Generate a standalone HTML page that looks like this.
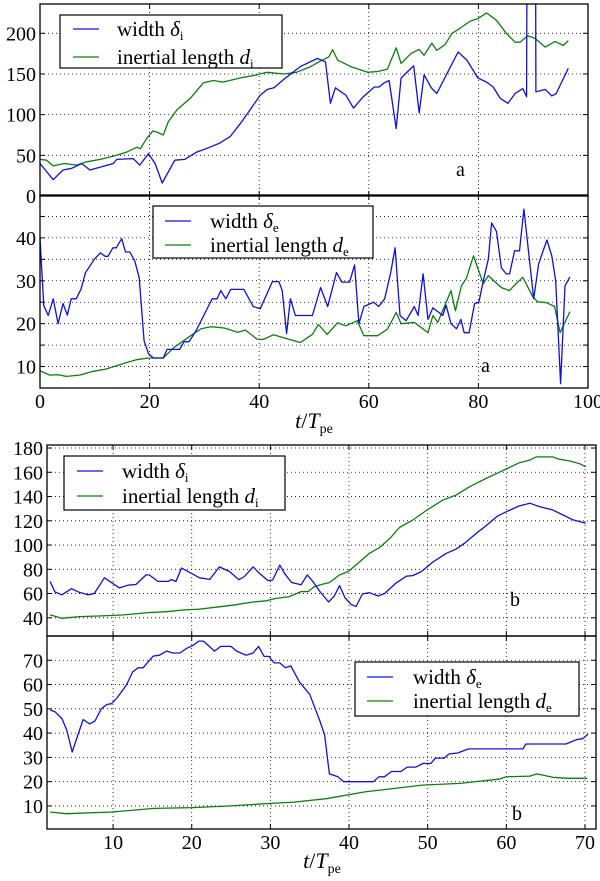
<!DOCTYPE html>
<html><head><meta charset="utf-8">
<style>
html,body{margin:0;padding:0;background:#fff;}
svg{display:block;}
svg text{font-family:"Liberation Serif","DejaVu Serif",serif !important;}
</style></head>
<body>
<svg id="fig" width="600" height="881" viewBox="0 0 600 881" xmlns="http://www.w3.org/2000/svg" font-family="'Liberation Serif', 'DejaVu Serif', serif"></svg>
<script>
// ---- data ----
const p1BlueT=[0,2.4,4.2,5.8,7.6,9.1,13.4,14,17,18.2,19.8,21,22.3,24.6,26.4,28.6,31,32.8,34.7,37,40.2,41.5,42.7,44.4,47.5,50.6,52.1,53,53.9,55.8,57.2,59,61,61.9,62.8,63.7,65,65.9,67.1,68.2,69.2,70.1,71.4,72.4,74.3,76.3,77.9,79.9,81.5,82.7,84,85.4,86.7,88.1,88.8,88.9,90.4,90.5,92.2,93.4,94.2,96.4];
const p1BlueV=[40,20,32,34,40,32,40,45,46,38,52,40,16,44,45,54,60,65,73,93,124,131,133,143,159,169,165,114,133,124,108,122,134,134,139,142,83,145,153,160,102,149,133,126,151,177,167,145,140,134,120,114,126,132,122,400,400,128,131,123,126,157];
const p1GreenT=[0,1.2,2.4,4.4,6.7,8.5,11,14,15.8,17.7,18.3,19.5,20.6,21.5,22.5,23.4,25,27.4,29.8,31.6,33.4,36.5,39.6,41.4,44.5,46.8,49.4,51.2,52.7,53.4,54.3,56.7,59.8,61.6,63.4,65,65.9,67.7,68.8,69.2,70.1,71.5,72.4,73.9,75.2,76.6,78.5,79.9,81.5,83.3,85.1,86.7,87.6,89,90.3,92.2,94,95.5,96.4];
const p1GreenV=[45,44,37,40,38,42,45,50,54,60,58,71,80,78,75,91,106,120,139,142,140,145,149,152,150,152,159,166,171,180,167,159,152,153,156,182,163,175,179,180,173,188,179,186,200,206,215,218,225,216,200,189,189,197,194,183,190,185,191];
const p2BlueT=[0,0.7,1.5,2.4,3.3,4.2,5,5.7,6.6,7.5,8.3,9.9,11,11.9,12.4,13.3,13.9,14.9,15.6,16.4,17.3,18.1,19,19.8,20.7,22.5,23.2,25.5,26.3,27.2,28.5,31.4,32.3,33,33.9,34.8,37.2,38.9,40.2,42.4,43.6,44.2,45,45.7,46.6,49.7,51.2,52.5,54.1,55.1,56.5,57.4,58.2,59.1,60.9,61.8,62.9,64,64.8,65.7,66.8,68.3,69,69.9,70.8,71.7,73.5,74.1,75,76,76.8,77.4,78.3,79.3,80.1,80.9,81.8,82.4,83.3,84.2,85.1,85.7,86.6,87.5,88.3,90.1,91,92.5,93.4,94.1,95,95.8,96.7];
const p2BlueV=[39.8,24.2,21.9,25.8,20,24.7,22,25.8,25.8,28.1,31.9,35,36.5,35.7,35.7,37.7,37.7,39.8,36.7,36.7,34.6,30.7,16,13,12,12,14,14,15.8,15.8,18.4,25.8,25.8,27.7,25.8,28,28,24,23.5,29.8,29.8,27.7,17.7,25.8,21.9,21.9,28.4,24,31.9,29.7,29.7,33.7,20,24,25,24,25.8,31.9,37.7,21.9,20.7,24,21.9,31.6,21,23.7,21.9,24.3,20,18.8,21,17.9,17.9,24.7,25,30,35,43.5,41.5,33,31.6,31.6,37,37,46.7,25.8,34,39.5,35.8,30,6,28.8,30.9];
const p2GreenT=[0,1.8,3.3,4.8,7.2,9.7,12,15.2,17.6,19.8,22.5,24.4,27.5,29.4,31.2,33.6,36.1,37.5,39.6,40.7,42.6,45.1,47.5,49.7,50.8,52.4,54.3,55.8,57.9,59.1,61.6,63.4,65,65.9,68.3,70.8,71.7,72.6,75,75.8,76.9,77.8,79.1,80.9,81.8,84.2,85.7,86.6,88.1,89.9,90.8,92.4,93.9,94.9,96.7];
const p2GreenV=[9,8,8.1,7.7,8,8.9,9.4,10.7,11.6,12,12,14.4,17.2,18.8,19.3,19,18,18.5,16.4,16.3,17.4,16.5,15.6,17.5,19.8,17.5,20.2,19.5,20.7,17.2,17.2,18.7,22.6,20,20.3,17.9,21.9,20.3,27.7,23,28.8,30.5,35.8,29.3,31.2,28.4,27.7,29,30.8,26.3,25.1,24.9,24,17.9,22.8];
const p3BlueT=[2,2.6,3.5,4.7,5.7,6.8,7.6,8.9,9.8,10.8,11.9,12.9,14.2,14.6,15.7,17,17.4,18,18.7,19.7,21,22.3,23.5,24.8,26,26.7,27.8,28.6,29.7,30.3,31.2,31.8,32.7,33.9,34.7,35.4,36.3,37.4,38.1,38.8,39.5,40.3,40.9,41.7,42.6,43.7,44.5,46,47.3,48.1,49.2,50.7,52.4,53.6,54.7,56.2,57.4,58.9,60.3,61.6,63,64.2,65.9,67.2,68.5,70.1];
const p3BlueV=[70,61.4,59,64,61,59,60,73,69,64.7,66.9,67.5,75.4,75.4,70,70,71.5,70,81,77.5,73,71.7,82,78.2,71.4,74.1,82,76.7,70.7,71.2,83.5,76.7,69.1,67.2,75.4,70,61.7,53,57.7,66.6,56.3,50.9,49.3,59.6,60.7,58,60,68.8,74.3,74.8,78.1,86.2,93.3,96.6,101.5,109.8,115.8,124,128.4,132.2,134.5,131.7,129,124.8,120.7,118];
const p3GreenT=[2,3.5,5.7,8.2,11.4,14.4,16.8,18.9,21,23.5,25.2,27.8,29.5,30.7,32.4,33.9,34.8,35.6,36.6,37.5,38.8,39.9,40.9,42.6,43.9,45.2,46.4,48.1,49.8,51.9,53.6,55.3,57.4,59.5,61.6,62.9,63.8,65.9,66.7,68,69.3,70.1];
const p3GreenV=[42.4,39.6,41,41.5,42.4,44.3,45,46.4,47.2,49.1,50.4,53,54,56,57.5,61.6,61.6,65.7,67.7,69,75.4,78.1,83.6,93.2,98.1,105.5,114.5,120.6,128.4,137,141.2,148,154.9,161.2,167.7,169.9,172.7,172.7,170.8,169.4,167.2,164.5];
const p4BlueT=[2,2.6,3.5,4.1,4.8,5.5,6.2,7,7.7,8.5,9.2,9.8,10.6,11.7,12.5,13.2,13.8,15.1,15.9,16.8,17.6,18.5,19.3,20.2,20.9,21.5,22.9,23.7,25,25.7,26.9,27.8,28.5,29.2,29.8,30.5,31.2,31.9,32.6,33.7,35,36.3,36.9,37.5,38.6,39.3,43.1,43.8,44.5,45.4,46.6,47.4,48.5,49.4,50.4,51,52.1,52.7,53.8,55.2,62.1,62.5,67.6,68.9,69.7,70.4];
const p4BlueV=[49.5,48.8,46,41.3,32.2,39,45.6,43.8,45,50,51.8,52.1,54.9,59.8,65.2,66.9,66.9,71.7,72.1,73.8,73,73,74.8,76.2,77.9,77.9,73.8,75.7,75.7,73.8,72.1,73,75.7,71.6,71.6,68.9,68.9,66.9,67.7,61,56,45,39.3,23.2,22,20,20,22,22,24.2,24.2,26,26,27.5,27.5,29.7,29.7,31.4,31.8,33.5,33.5,35.5,35.5,37.3,37.7,39.6];
const p4GreenT=[2,4,9.9,15.2,20.1,25,29.8,33,37.1,42,49.3,54.1,59,60,63,63.9,65.9,67.8,70.3];
const p4GreenV=[7.5,6.8,7.5,9,9.3,10,11,11.6,13,15.8,18.6,19.3,21,22,22.3,23.2,21.8,21.4,21.4];
const xTicksA=[0,20,40,60,80,100];
const xTicksB=[10,20,30,40,50,60,70];
const p1YTicks=[0,50,100,150,200];
const p2YTicks=[10,20,30,40];
const p2YGrid=[10,15,20,25,30,35,40,45];
const p3YTicks=[40,60,80,100,120,140,160,180];
const p4YTicks=[10,20,30,40,50,60,70];

const NS="http://www.w3.org/2000/svg";
const FF="'Liberation Serif', 'DejaVu Serif', serif";
const svg=document.getElementById('fig');
function mk(tag,attrs,parent){const e=document.createElementNS(NS,tag);for(const k in attrs)e.setAttribute(k,attrs[k]);if(tag==='text')e.setAttribute('font-family',FF);(parent||svg).appendChild(e);return e;}

function panel(name,px0,px1,py0,py1,t0,t1,v0,v1,xgrid,ygrid,ylabels,xlabels,blueT,blueV,greenT,greenV,legend,tag){
  const g=mk('g',{});
  
  
  const sx=t=>px0+(t-t0)/(t1-t0)*(px1-px0);
  const sy=v=>py1-(v-v0)/(v1-v0)*(py1-py0);
  const cid=name+'-clip';
  const cp=mk('clipPath',{id:cid},g);mk('rect',{x:px0,y:py0,width:px1-px0,height:py1-py0},cp);
  xgrid.forEach(t=>{const x=sx(t);if(x<=px0+1||x>=px1-1)return;
    const l=mk('line',{x1:x,x2:x,y1:py0,y2:py1,stroke:'#000','stroke-width':0.8,'stroke-dasharray':'1,3'},g);
    
    
    mk('line',{x1:x,x2:x,y1:py1,y2:py1-5,stroke:'#000','stroke-width':1},g);
    mk('line',{x1:x,x2:x,y1:py0,y2:py0+5,stroke:'#000','stroke-width':1},g);});
  ygrid.forEach(v=>{const y=sy(v);if(y<=py0+1||y>=py1-1)return;
    const l=mk('line',{x1:px0,x2:px1,y1:y,y2:y,stroke:'#000','stroke-width':0.8,'stroke-dasharray':'1,3'},g);
    
    
    mk('line',{x1:px0,x2:px0+5,y1:y,y2:y,stroke:'#000','stroke-width':1},g);
    mk('line',{x1:px1,x2:px1-5,y1:y,y2:y,stroke:'#000','stroke-width':1},g);});
  ylabels.forEach(v=>{const t=mk('text',{x:px0-4,y:sy(v)+7,'text-anchor':'end','font-size':20},g);t.textContent=v;
    
    });
  if(xlabels) xlabels.forEach(v=>{const t=mk('text',{x:sx(v),y:py1+20,'text-anchor':'middle','font-size':20},g);t.textContent=v;
    
    });
  const lg=mk('g',{'clip-path':'url(#'+cid+')'},g);
  const pts=(T,V)=>T.map((t,i)=>sx(t).toFixed(1)+','+sy(V[i]).toFixed(1)).join(' ');
  const gl=mk('polyline',{points:pts(greenT,greenV),fill:'none',stroke:'#0a800a','stroke-width':1.3,'stroke-linejoin':'round'},lg);
  
  
  const bl=mk('polyline',{points:pts(blueT,blueV),fill:'none',stroke:'#1010e0','stroke-width':1.3,'stroke-linejoin':'round'},lg);
  
  
  mk('rect',{x:px0,y:py0,width:px1-px0,height:py1-py0,fill:'none',stroke:'#000','stroke-width':1.3},g);
  const L=mk('g',{},g);
  
  
  mk('rect',{x:legend.x,y:legend.y,width:legend.w,height:legend.h,fill:'#fff',stroke:'#000','stroke-width':1.2},L);
  mk('line',{x1:legend.lx,x2:legend.lx+26,y1:legend.y1,y2:legend.y1,stroke:'#1010e0','stroke-width':1.3},L);
  mk('line',{x1:legend.lx,x2:legend.lx+26,y1:legend.y2,y2:legend.y2,stroke:'#0a800a','stroke-width':1.3},L);
  const t1e=mk('text',{x:legend.tx,y:legend.y1+7,'font-size':21},L);
  t1e.innerHTML='width <tspan font-style="italic">δ</tspan><tspan font-size="13" dy="4">'+legend.sub+'</tspan>';
  
  
  const t2e=mk('text',{x:legend.tx,y:legend.y2+7,'font-size':21},L);
  t2e.innerHTML='inertial length <tspan font-style="italic">d</tspan><tspan font-size="13" dy="4">'+legend.sub+'</tspan>';
  
  
  const tg=mk('text',{x:tag.x,y:tag.y,'font-size':20},g);tg.textContent=tag.s;
  
  
}
panel('panel-a-ion',40,588,4,196,0,100,0,236,xTicksA,[50,100,150,200],p1YTicks,null,p1BlueT,p1BlueV,p1GreenT,p1GreenV,
  {x:60,y:15,w:222,h:53,lx:73,y1:29,y2:57,tx:117,sub:'i'},{x:456,y:176,s:'a'});
panel('panel-a-electron',40,588,195,388,0,100,5,50,xTicksA,p2YGrid,p2YTicks,xTicksA,p2BlueT,p2BlueV,p2GreenT,p2GreenV,
  {x:153,y:206,w:220,h:52,lx:165,y1:221,y2:245,tx:210,sub:'e'},{x:481,y:372,s:'a'});
panel('panel-b-ion',47,596,445,636,1.6,71.4,25,182.5,xTicksB,p3YTicks,p3YTicks,null,p3BlueT,p3BlueV,p3GreenT,p3GreenV,
  {x:64,y:456,w:221,h:54,lx:77,y1:471,y2:496,tx:122,sub:'i'},{x:510,y:606,s:'b'});
panel('panel-b-electron',47,596,636,829,1.6,71.4,0.5,80,xTicksB,p4YTicks,p4YTicks,xTicksB,p4BlueT,p4BlueV,p4GreenT,p4GreenV,
  {x:355,y:662,w:224,h:54,lx:367,y1:677,y2:701,tx:413,sub:'e'},{x:512,y:820,s:'b'});
function xtitle(x,y){const t=mk('text',{x:x,y:y,'text-anchor':'middle','font-size':22});
  t.innerHTML='<tspan font-style="italic">t</tspan>/<tspan font-style="italic">T</tspan><tspan font-size="14" dy="5">pe</tspan>';
  
  }
xtitle(314,428);
xtitle(322,868);
</script>
</body></html>
